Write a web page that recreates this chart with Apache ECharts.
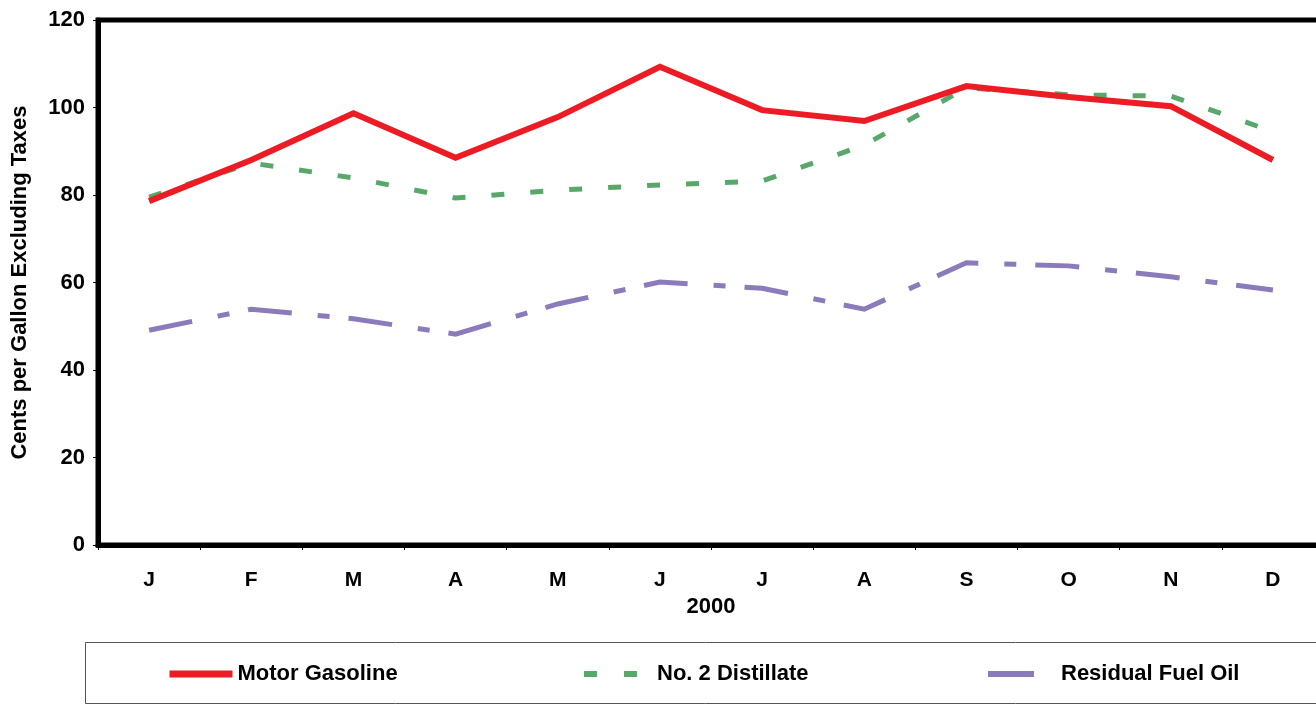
<!DOCTYPE html>
<html>
<head>
<meta charset="utf-8">
<script src="https://cdn.jsdelivr.net/npm/echarts@6/dist/echarts.min.js"></script>
<style>
html,body{margin:0;padding:0;background:#fff;overflow:hidden;}
#c{width:1332px;height:704px;}
</style>
</head>
<body>
<div id="c"></div>
<script>
const months = ['J','F','M','A','M','J','J','A','S','O','N','D'];
const yTicks = [0, 20, 40, 60, 80, 100, 120];
const xTitle = '2000';
const yTitle = 'Cents per Gallon Excluding Taxes';
const seriesNames = ['Motor Gasoline', 'No. 2 Distillate', 'Residual Fuel Oil'];
const motorGasoline = [78.6, 88.0, 98.7, 88.5, 97.8, 109.3, 99.4, 96.9, 104.9, 102.4, 100.3, 88.0];
const distillate = [79.5, 87.3, 83.9, 79.3, 81.1, 82.3, 83.2, 91.4, 104.5, 102.9, 102.6, 94.5];
const residual = [49.1, 53.9, 51.7, 48.2, 55.1, 60.1, 58.7, 53.9, 64.5, 63.8, 61.3, 58.3];

const FONT = '"Liberation Sans", Arial, sans-serif';
const chart = echarts.init(document.getElementById('c'), null, {renderer: 'canvas'});

const styles = [
  {color: '#ED1C24', width: 6, type: 'solid'},
  {color: '#58A86C', width: 5, type: [13, 26]},
  {color: '#8C7BBB', width: 5, type: [44, 26, 12, 19]}
];
const seriesData = [motorGasoline, distillate, residual];

function legendFor(i, left, w, pad, lw, ltype) {
  return {
    data: [seriesNames[i]],
    left: left, top: 658,
    itemWidth: w, itemHeight: 12,
    lineStyle: {color: styles[i].color, width: lw, type: ltype, opacity: 1, cap: 'butt'},
    itemStyle: {color: 'transparent', borderWidth: 0, opacity: 0},
    textStyle: {fontFamily: FONT, fontWeight: 'bold', fontSize: 22, color: '#000', padding: [0, 0, 0, pad]},
    selectedMode: false
  };
}

chart.setOption({
  animation: false,
  backgroundColor: '#fff',
  grid: {left: 98, top: 20, width: 1226, height: 525, show: true, borderColor: '#000', borderWidth: 5},
  graphic: [{
    type: 'rect', shape: {x: 85.5, y: 642.5, width: 1240, height: 61},
    style: {fill: 'none', stroke: '#555', lineWidth: 1}
  }],
  legend: [
    legendFor(0, 161, 63, 0, 7, 'solid'),
    legendFor(1, 576, 53, 15, 6, [13, 27]),
    legendFor(2, 980, 46, 22, 6, 'solid')
  ],
  xAxis: {
    type: 'category', data: months, boundaryGap: true,
    name: xTitle, nameLocation: 'middle', nameGap: 46,
    nameTextStyle: {fontFamily: FONT, fontWeight: 'bold', fontSize: 22, color: '#000'},
    axisLine: {show: true, lineStyle: {color: '#000', width: 5}},
    axisTick: {show: true, length: 5, inside: false, lineStyle: {color: '#000', width: 1}},
    axisLabel: {fontFamily: FONT, fontWeight: 'bold', fontSize: 21, color: '#000', margin: 25},
    splitLine: {show: false}
  },
  yAxis: {
    type: 'value', min: yTicks[0], max: yTicks[yTicks.length - 1], interval: 20,
    name: yTitle, nameLocation: 'middle', nameGap: 67, nameRotate: 90,
    nameTextStyle: {fontFamily: FONT, fontWeight: 'bold', fontSize: 22, color: '#000'},
    axisLine: {show: true, lineStyle: {color: '#000', width: 5}},
    axisTick: {show: true, length: 5, lineStyle: {color: '#000', width: 1}},
    axisLabel: {fontFamily: FONT, fontWeight: 'bold', fontSize: 22, color: '#000', margin: 13},
    splitLine: {show: false}
  },
  series: seriesData.map((d, i) => ({
    name: seriesNames[i], type: 'line', data: d,
    symbol: 'none', showSymbol: false,
    lineStyle: {color: styles[i].color, width: styles[i].width, type: styles[i].type, cap: 'butt', join: 'miter'},
    itemStyle: {color: styles[i].color},
    z: 3 - i
  }))
});
</script>
</body>
</html>
